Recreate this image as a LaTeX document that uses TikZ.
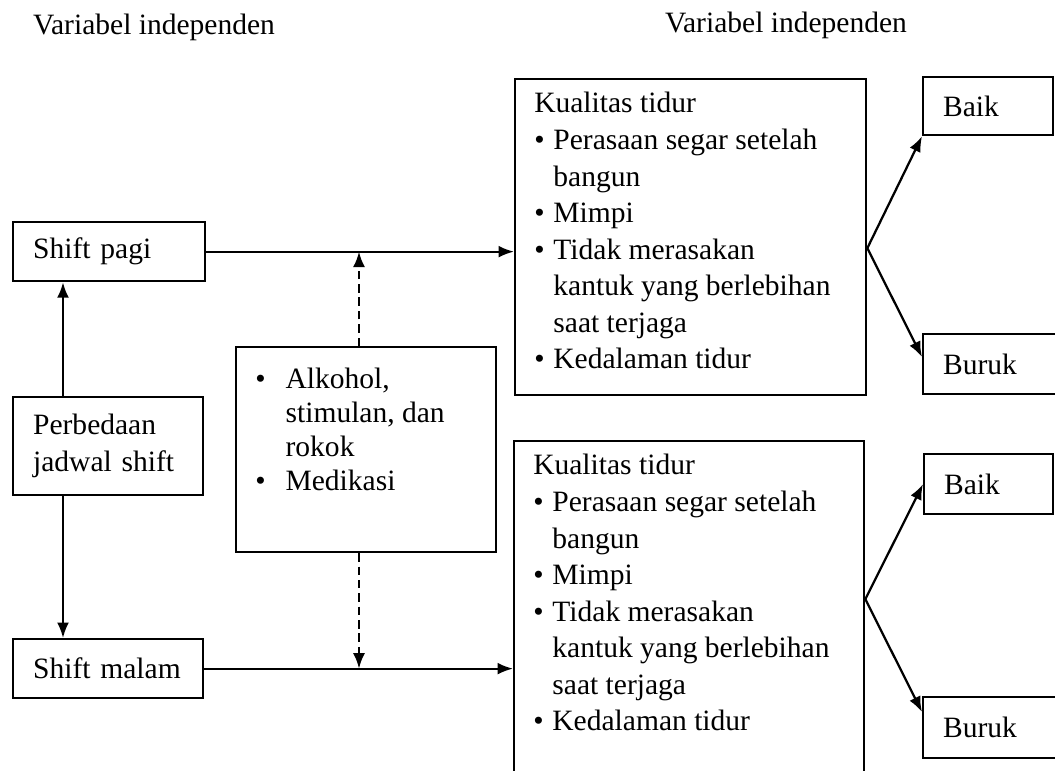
\documentclass[tikz,border=0pt]{standalone}
\usepackage{fontspec}
\setmainfont{Liberation Serif}
\usetikzlibrary{arrows.meta,calc}

\newcommand{\isikualitas}{%
  \begin{tabular}{@{}l@{\hspace{0.22cm}}l@{}}
    \multicolumn{2}{@{}l@{}}{Kualitas tidur}\\
    \textbullet & Perasaan segar setelah\\
                & bangun\\
    \textbullet & Mimpi\\
    \textbullet & Tidak merasakan\\
                & kantuk yang berlebihan\\
                & saat terjaga\\
    \textbullet & Kedalaman tidur
  \end{tabular}}

\begin{document}
\begin{tikzpicture}[x=0.025cm,y=-0.025cm,
    kotak/.style={draw, line width=1.6pt, anchor=north west, inner xsep=0.5cm, align=left,
      font=\fontsize{21}{26}\selectfont},
    isi/.style={anchor=north west, inner sep=0pt, align=left, font=\fontsize{21}{26}\selectfont},
    panah/.style={line width=1.6pt, -{Latex[length=11pt,width=8.5pt]}},
    putus/.style={panah, dash pattern=on 6pt off 3.5pt}]
  \useasboundingbox (0,0) rectangle (1055,771);

  % judul
  \node[font=\fontsize{21}{26}\selectfont] (judulkiri) at (154,27) {Variabel independen};
  \node[font=\fontsize{21}{26}\selectfont] (judulkanan) at (786,25) {Variabel independen};

  % kotak kiri
  \node[kotak, text width=3.8cm, minimum height=1.475cm] (pagi) at (12,221) {Shift pagi};
  \node[kotak, text width=3.75cm, minimum height=2.45cm] (perbedaan) at (12,396) {Perbedaan\\jadwal shift};
  \node[kotak, text width=3.75cm, minimum height=1.475cm] (malam) at (12,638) {Shift malam};

  % faktor pengganggu
  \node[kotak, minimum width=6.5cm, minimum height=5.125cm] (mid) at (235,346) {};
  \node[isi, font=\fontsize{21}{24}\selectfont] (midisi) at ($(mid.north west)+(20,19)$) {%
    \begin{tabular}{@{}l@{\hspace{0.5cm}}l@{}}
      \textbullet & Alkohol,\\
                  & stimulan, dan\\
                  & rokok\\
      \textbullet & Medikasi
    \end{tabular}};

  % kualitas tidur
  \node[kotak, minimum width=8.775cm, minimum height=7.9cm] (kual1) at (514,78) {};
  \node[isi] (kual1isi) at ($(kual1.north west)+(20,9)$) {\isikualitas};
  \node[kotak, minimum width=8.75cm, minimum height=9cm] (kual2) at (513,440) {};
  \node[isi] (kual2isi) at ($(kual2.north west)+(20,9)$) {\isikualitas};

  % hasil
  \node[kotak, text width=2.25cm, minimum height=1.45cm] (baik1) at (922,76) {Baik};
  \node[kotak, text width=2.5cm, minimum height=1.5cm] (buruk1) at (922,333) {Buruk};
  \node[kotak, text width=2.225cm, minimum height=1.5cm] (baik2) at (923,453) {Baik};
  \node[kotak, text width=2.5cm, minimum height=1.525cm] (buruk2) at (922,696) {Buruk};

  % panah
  \draw[panah] (63,0 |- perbedaan.north) -- (63,0 |- pagi.south);
  \draw[panah] (63,0 |- perbedaan.south) -- (63,0 |- malam.north);
  \draw[panah] (pagi.east) -- (pagi.east -| kual1.west);
  \draw[panah] (malam.east) -- (malam.east -| kual2.west);
  \draw[putus] (359,0 |- mid.north) -- (359,0 |- pagi.east);
  \draw[putus] (359,0 |- mid.south) -- (359,0 |- malam.east);

  \coordinate (k1out) at ($(kual1.east)+(0,11)$);
  \draw[panah] (k1out) -- (baik1.south west);
  \draw[panah] (k1out) -- ($(buruk1.north west)+(0,24)$);
  \coordinate (k2out) at ($(kual2.east)+(0,-22)$);
  \draw[panah] (k2out) -- (baik2.west);
  \draw[panah] (k2out) -- ($(buruk2.north west)+(0,16)$);
\end{tikzpicture}
\end{document}
